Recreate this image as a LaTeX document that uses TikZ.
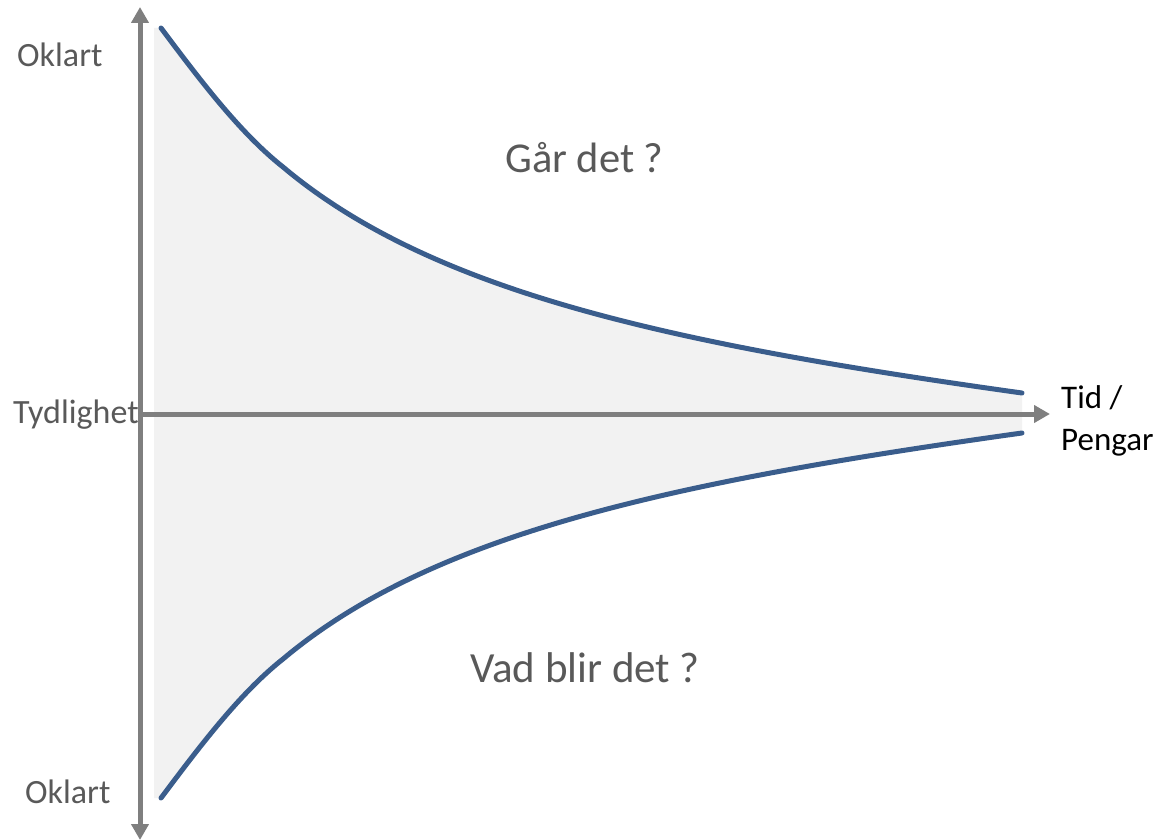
\documentclass[tikz,border=0pt]{standalone}
\usepackage{fontspec}
\setmainfont{Carlito}
\usetikzlibrary{arrows.meta}
\definecolor{curveblue}{HTML}{3A5D8C}
\definecolor{axisgray}{HTML}{7F7F7F}
\definecolor{areagray}{HTML}{F2F2F2}
\definecolor{labelgray}{HTML}{595959}
\tikzset{
  axis/.style={draw=axisgray, line width=5pt, {Triangle[length=16pt,width=17pt]}-{Triangle[length=16pt,width=17pt]}},
  axisone/.style={draw=axisgray, line width=5pt, -{Triangle[length=16pt,width=17pt]}},
  curve/.style={draw=curveblue, line width=5pt, line cap=round},
  lbl/.style={inner sep=0pt, anchor=base west, text=labelgray},
}
\begin{document}
\begin{tikzpicture}[x=1pt,y=-1pt]
\useasboundingbox (0,0) rectangle (1160,840);
% key points
\coordinate (ua) at (161,28);
\coordinate (ub) at (283,167);
\coordinate (uc) at (1022,393);
\coordinate (la) at (161,798);
\coordinate (lb) at (283,659);
\coordinate (lc) at (1022,433);
% shaded area
\fill[areagray] (154,28) -- (ua) .. controls (200,80) and (240,133) .. (ub)
  .. controls (433,293) and (672,344) .. (uc) -- (lc)
  .. controls (672,482) and (433,533) .. (lb)
  .. controls (240,693) and (200,746) .. (la) -- (154,798) -- cycle;
% axes
\coordinate (ytop) at (140,7);
\coordinate (ybot) at (140,840);
\coordinate (xorig) at (140,414);
\coordinate (xend) at (1050,414);
\draw[axis] (ybot) -- (ytop);
\draw[axisone] (xorig) -- (xend);
% curves
\draw[curve] (ua) .. controls (200,80) and (240,133) .. (ub) .. controls (433,293) and (672,344) .. (uc);
\draw[curve] (la) .. controls (200,746) and (240,693) .. (lb) .. controls (433,533) and (672,482) .. (lc);
% labels
\node[lbl, font=\fontsize{34}{40}\selectfont] (oklarttop) at (17,67) {Oklart};
\node[lbl, font=\fontsize{34}{40}\selectfont] (tydlighet) at (13,423) {Tydlighet};
\node[lbl, font=\fontsize{34}{40}\selectfont] (oklartbot) at (25,803) {Oklart};
\node[lbl, font=\fontsize{42.5}{50}\selectfont] (gar) at (505,172) {Går det ?};
\node[lbl, font=\fontsize{43}{50}\selectfont] (vad) at (470,682) {Vad blir det ?};
\node[lbl, text=black, font=\fontsize{33}{42}\selectfont] (tid) at (1061,408) {Tid /};
\node[lbl, text=black, font=\fontsize{33}{42}\selectfont] (pengar) at (1061,450) {Pengar};
\end{tikzpicture}
\end{document}
